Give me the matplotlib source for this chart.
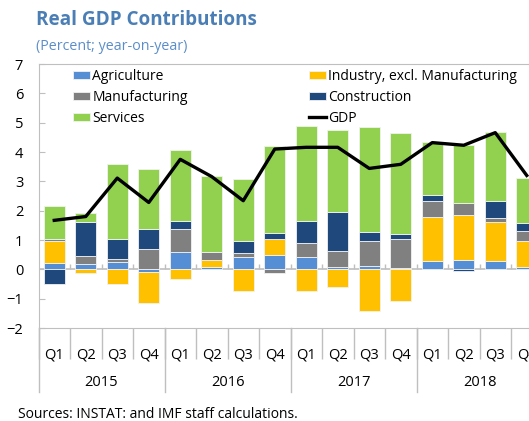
import matplotlib
matplotlib.use("Agg")
import matplotlib.pyplot as plt
import numpy as np

plt.rcParams['font.family'] = ['Open Sans', 'DejaVu Sans']

quarters = ['Q1', 'Q2', 'Q3', 'Q4'] * 4
years = ['2015', '2016', '2017', '2018']

agriculture   = [0.20, 0.19, 0.24, -0.08, 0.58, 0.09, 0.41, 0.49, 0.41, 0.07, 0.11, 0.05, 0.30, 0.33, 0.30, 0.09]
industry      = [0.76, -0.11, -0.50, -1.08, -0.33, 0.23, -0.73, 0.53, -0.73, -0.61, -1.41, -1.09, 1.48, 1.51, 1.30, 0.89]
manufacturing = [0.06, 0.26, 0.11, 0.69, 0.81, 0.27, 0.15, -0.11, 0.50, 0.55, 0.86, 0.99, 0.56, 0.43, 0.16, 0.33]
construction  = [-0.49, 1.17, 0.70, 0.70, 0.27, 0.00, 0.42, 0.23, 0.74, 1.35, 0.31, 0.18, 0.19, -0.05, 0.56, 0.28]
services      = [1.14, 0.30, 2.55, 2.03, 2.42, 2.58, 2.09, 2.95, 3.24, 2.78, 3.58, 3.42, 1.80, 1.98, 2.36, 1.52]
gdp           = [1.67, 1.80, 3.11, 2.28, 3.75, 3.16, 2.34, 4.10, 4.16, 4.16, 3.44, 3.58, 4.32, 4.23, 4.66, 3.20]

series = [
    ('Agriculture', agriculture, '#558ed5'),
    ('Industry, excl. Manufacturing', industry, '#ffc000'),
    ('Manufacturing', manufacturing, '#808080'),
    ('Construction', construction, '#1f497d'),
    ('Services', services, '#92d050'),
]

W, H = 529, 421
fig = plt.figure(figsize=(W / 100, H / 100), dpi=100)
# plot area runs past the right edge of the picture (last bar is cut off)
ax = fig.add_axes([38.5 / W, (H - 328) / H, 504 / W, 264 / H])

grid_c = '#bfbfbf'
x = np.arange(len(gdp))

# small upward ticks on the zero line
bounds = np.arange(-0.5, len(gdp) + 0.5, 1)
ax.vlines(bounds[1:], 0, 0.17, color=grid_c, lw=1, zorder=1)
ax.axhline(0, color=grid_c, lw=1.2, zorder=1)

pos_base = np.zeros(len(gdp))
neg_base = np.zeros(len(gdp))
bars = {}
for name, vals, col in series:
    v = np.array(vals)
    base = np.where(v >= 0, pos_base, neg_base)
    bars[name] = ax.bar(x, v, 0.67, bottom=base, color=col, edgecolor='#f2f2f2',
                        linewidth=0.6, zorder=2, label=name)
    pos_base = pos_base + np.clip(v, 0, None)
    neg_base = neg_base + np.clip(v, None, 0)

line, = ax.plot(x, gdp, color='black', lw=2.4, zorder=3, label='GDP')

ax.set_xlim(-0.5, 15.5)
ax.set_ylim(-2, 7)
ax.set_yticks(range(-2, 8))
ax.tick_params(axis='y', direction='in', length=4, color=grid_c, labelsize=10.5, pad=11)

ax.set_xticks(x, quarters)
ax.tick_params(axis='x', which='major', length=0, labelsize=10.5, pad=14)
ax.set_xticks(bounds, minor=True)
ax.tick_params(axis='x', which='minor', length=22.5, color=grid_c, width=1)

for s in ['left', 'top', 'bottom']:
    ax.spines[s].set_color(grid_c)
ax.spines['right'].set_visible(False)

# year separators and labels
tr = ax.get_xaxis_transform()
for b in [-0.5, 3.5, 7.5, 11.5, 15.5]:
    ax.plot([b, b], [0, -64 / 264], color=grid_c, lw=1, transform=tr, clip_on=False)
for i, yr in enumerate(years):
    ax.text(4 * i + 1.5, -(382 - 328) / 264, yr, transform=tr, ha='center', va='center', fontsize=10.5)

handles = [bars['Agriculture'], bars['Manufacturing'], bars['Services'],
           bars['Industry, excl. Manufacturing'], bars['Construction'], line]
labels = ['Agriculture', 'Manufacturing', 'Services',
          'Industry, excl. Manufacturing', 'Construction', 'GDP']
fig.legend(handles, labels, ncol=2, loc='upper left', bbox_to_anchor=(66 / W, 1 - 62 / H),
           frameon=False, fontsize=10, borderpad=0, handlelength=1.25, handleheight=0.5,
           handletextpad=0.15, labelspacing=0.42, columnspacing=8.7)

fig.text(36 / W, 1 - 20 / H, 'Real GDP Contributions', fontsize=13.6, fontweight='bold',
         color='#4a7eb5', va='center')
fig.text(36 / W, 1 - 46 / H, '(Percent; year-on-year)', fontsize=10.3,
         color='#5b8ec9', va='center')
fig.text(18 / W, 1 - 414 / H, 'Sources: INSTAT: and IMF staff calculations.', fontsize=10,
         va='center')

fig.savefig('out.png', dpi=100)
